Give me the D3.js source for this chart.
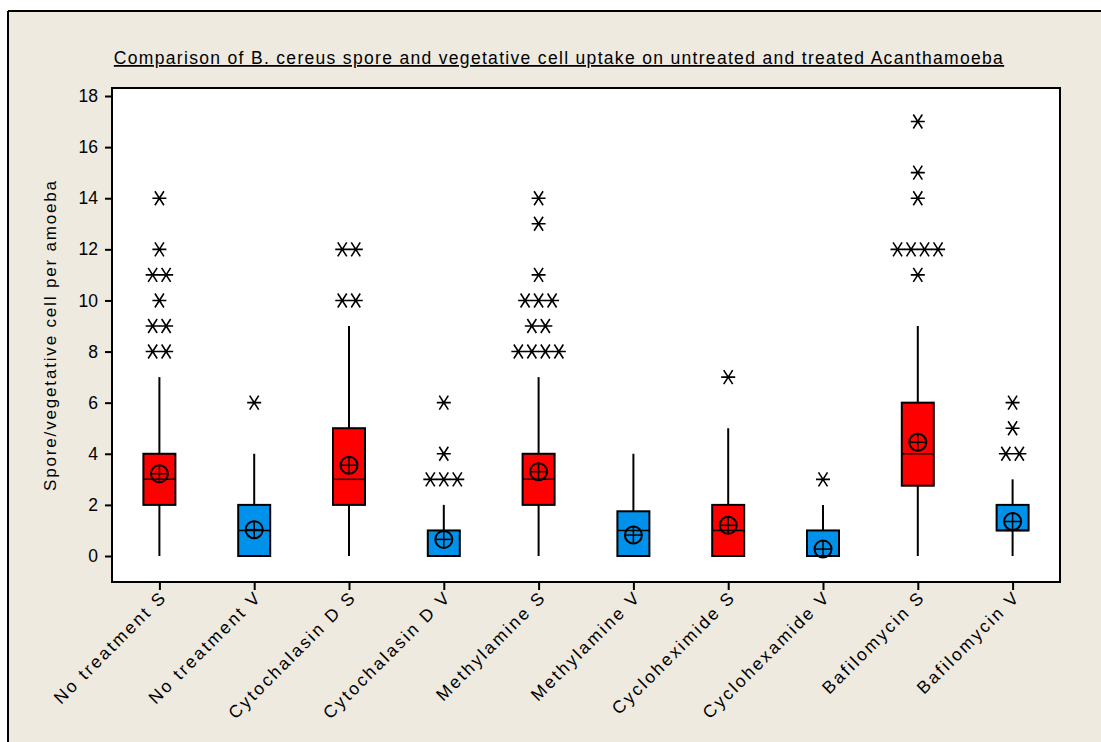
<!DOCTYPE html>
<html><head><meta charset="utf-8">
<script src="https://cdn.jsdelivr.net/npm/d3@7"></script>
<style>body{margin:0;background:#fff;} svg{display:block;font-family:"Liberation Sans",Arial,sans-serif;}</style>
</head><body><svg id="c" width="1101" height="742"></svg>
<script>
const categories = ["No treatment S","No treatment V","Cytochalasin D S","Cytochalasin D V","Methylamine S","Methylamine V","Cycloheximide S","Cyclohexamide V","Bafilomycin S","Bafilomycin V"];
const groupType = ["S","V","S","V","S","V","S","V","S","V"];
const whiskerLow = [0,0,0,0,0,0,0,0,0,0];
const q1 =        [2,0,2,0,2,0,0,0,2.75,1];
const median =    [3,1,3,0,3,1,1,0,4,1];
const q3 =        [4,2,5,1,4,1.75,2,1,6,2];
const whiskerHigh=[7,4,9,2,7,4,5,2,9,3];
const means =     [3.22,1.03,3.55,0.65,3.3,0.82,1.2,0.27,4.45,1.35];
// outliers: [value, count]
const outliers = [
  [[8,2],[9,2],[10,1],[11,2],[12,1],[14,1]],
  [[6,1]],
  [[10,2],[12,2]],
  [[3,3],[4,1],[6,1]],
  [[8,4],[9,2],[10,3],[11,1],[13,1],[14,1]],
  [],
  [[7,1]],
  [[3,1]],
  [[11,1],[12,4],[14,1],[15,1],[17,1]],
  [[4,2],[5,1],[6,1]]
];
const yTicks = [0,2,4,6,8,10,12,14,16,18];
const title = "Comparison of B. cereus spore and vegetative cell uptake on untreated and treated Acanthamoeba";
const yLabel = "Spore/vegetative cell per amoeba";
const colors = {S:"#ff0000", V:"#0091ea"};

const svg = d3.select("#c");
svg.append("rect").attr("x",8).attr("y",11).attr("width",1101).attr("height",742).attr("fill","#eeeae0");
svg.append("line").attr("x1",8).attr("x2",1101).attr("y1",11).attr("y2",11).attr("stroke","#000").attr("stroke-width",2);
svg.append("line").attr("x1",8).attr("x2",8).attr("y1",11).attr("y2",742).attr("stroke","#000").attr("stroke-width",2);

const L=112,R=1060,T=88,B=582;
svg.append("rect").attr("x",L).attr("y",T).attr("width",R-L).attr("height",B-T).attr("fill","#fff").attr("stroke","#000").attr("stroke-width",2);

const x = d3.scalePoint().domain(categories).range([L,R]).padding(0.5);
const y = d3.scaleLinear().domain([0,18]).range([556,96]);

const t = svg.append("text").attr("x",559).attr("y",64).attr("text-anchor","middle").attr("font-size",17.5).attr("fill","#000").attr("text-decoration","underline").text(title);
(function(){const w=t.node().getComputedTextLength(); const ls=(889-w)/(title.length-1); t.attr("letter-spacing",ls);})();

const ya = svg.append("g").attr("transform",`translate(${L},0)`).call(d3.axisLeft(y).tickValues(yTicks).tickSize(7).tickSizeOuter(0));
ya.select(".domain").remove();
ya.selectAll(".tick line").attr("stroke","#000").attr("stroke-width",2);
ya.selectAll(".tick text").attr("font-size",17.5).attr("fill","#000").attr("font-family","Liberation Sans, Arial, sans-serif").attr("x",-14);

const yl = svg.append("text").attr("transform","translate(56,335) rotate(-90)").attr("text-anchor","middle").attr("font-size",17).attr("fill","#000").text(yLabel);
(function(){const w=yl.node().getComputedTextLength(); const ls=(310-w)/(yLabel.length-1); yl.attr("letter-spacing",ls);})();

const xa = svg.append("g").attr("transform",`translate(0,${B})`).call(d3.axisBottom(x).tickSize(8).tickSizeOuter(0));
xa.select(".domain").remove();
xa.selectAll(".tick line").attr("stroke","#000").attr("stroke-width",2);
xa.selectAll(".tick text").attr("font-size",17.5).attr("fill","#000").attr("font-family","Liberation Sans, Arial, sans-serif")
  .attr("letter-spacing",2.4)
  .attr("text-anchor","end").attr("dy",0).attr("y",0).attr("transform","translate(8,16) rotate(-45)");

const bw = 32;
const g = svg.append("g");
categories.forEach((c,i)=>{
  const cx = x(c);
  g.append("line").attr("x1",cx).attr("x2",cx).attr("y1",y(whiskerHigh[i])).attr("y2",y(q3[i])).attr("stroke","#000").attr("stroke-width",2);
  g.append("line").attr("x1",cx).attr("x2",cx).attr("y1",y(q1[i])).attr("y2",y(whiskerLow[i])).attr("stroke","#000").attr("stroke-width",2);
  g.append("rect").attr("x",cx-bw/2).attr("y",y(q3[i])).attr("width",bw).attr("height",Math.max(0,y(q1[i])-y(q3[i])))
    .attr("fill",colors[groupType[i]]).attr("stroke","#000").attr("stroke-width",2);
  g.append("line").attr("x1",cx-bw/2).attr("x2",cx+bw/2).attr("y1",y(median[i])).attr("y2",y(median[i])).attr("stroke","#000").attr("stroke-width",1.5);
  const my = y(means[i]);
  g.append("circle").attr("cx",cx).attr("cy",my).attr("r",8.5).attr("fill","none").attr("stroke","#000").attr("stroke-width",2);
  g.append("line").attr("x1",cx-8.5).attr("x2",cx+8.5).attr("y1",my).attr("y2",my).attr("stroke","#000").attr("stroke-width",1.5);
  g.append("line").attr("x1",cx).attr("x2",cx).attr("y1",my-8.5).attr("y2",my+8.5).attr("stroke","#000").attr("stroke-width",1.5);
  outliers[i].forEach(([v,n])=>{
    for(let k=0;k<n;k++){
      const ox = cx + (k-(n-1)/2)*13.5, oy = y(v);
      const p = `M${ox-7},${oy}L${ox+7},${oy}M${ox-4.5},${oy-7}L${ox+4.5},${oy+7}M${ox+4.5},${oy-7}L${ox-4.5},${oy+7}`;
      g.append("path").attr("d",p).attr("stroke","#000").attr("stroke-width",1.6).attr("fill","none");
    }
  });
});
</script></body></html>
